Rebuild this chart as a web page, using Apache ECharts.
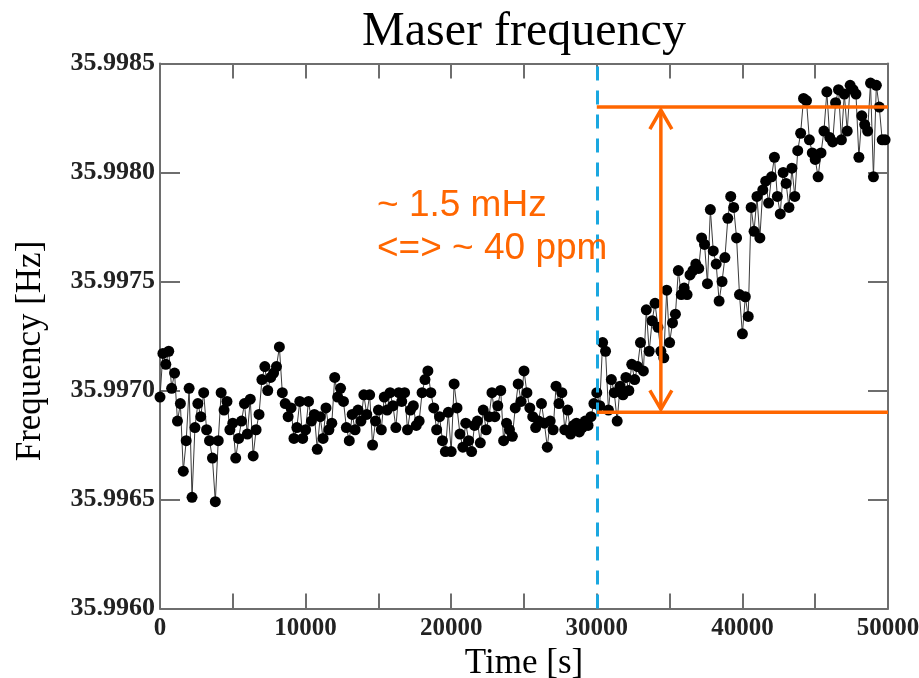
<!DOCTYPE html>
<html>
<head>
<meta charset="utf-8">
<title>Maser frequency</title>
<script src="https://cdn.jsdelivr.net/npm/echarts@6/dist/echarts.min.js"></script>
<style>
  html, body { margin: 0; padding: 0; background: #ffffff; overflow: hidden; }
  #chart { width: 919px; height: 678px; }
</style>
</head>
<body>
<div id="chart"></div>
<script>
// Sampling: one reading every 200 s, starting at t = 0
const sampleStep = 200;

// Measured maser frequency [Hz]
const frequency = [
  35.99697, 35.99717, 35.99712, 35.99718, 35.99701, 35.99708, 35.99686, 35.99694, 35.99663, 35.99677,
  35.99701, 35.99651, 35.99683, 35.99694, 35.99688, 35.99699, 35.99682, 35.99677, 35.99669, 35.99649,
  35.99677, 35.99699, 35.99691, 35.99695, 35.99682, 35.99685, 35.99669, 35.99678, 35.99686, 35.99694,
  35.99680, 35.99696, 35.99670, 35.99682, 35.99689, 35.99705, 35.99711, 35.99700, 35.99706, 35.99708,
  35.99711, 35.99720, 35.99699, 35.99694, 35.99688, 35.99692, 35.99678, 35.99683, 35.99695, 35.99678,

  35.99682, 35.99695, 35.99686, 35.99689, 35.99673, 35.99688, 35.99678, 35.99692, 35.99682, 35.99685,
  35.99706, 35.99697, 35.99701, 35.99695, 35.99683, 35.99677, 35.99689, 35.99682, 35.99691, 35.99686,
  35.99698, 35.99689, 35.99698, 35.99675, 35.99686, 35.99691, 35.99682, 35.99697, 35.99691, 35.99699,
  35.99693, 35.99683, 35.99699, 35.99695, 35.99699, 35.99682, 35.99691, 35.99693, 35.99684, 35.99686,
  35.99699, 35.99705, 35.99709, 35.99699, 35.99692, 35.99682, 35.99688, 35.99677, 35.99672, 35.99690,

  35.99672, 35.99703, 35.99692, 35.99680, 35.99674, 35.99685, 35.99677, 35.99672, 35.99684, 35.99686,
  35.99676, 35.99691, 35.99682, 35.99688, 35.99699, 35.99688, 35.99693, 35.99700, 35.99677, 35.99685,
  35.99682, 35.99679, 35.99692, 35.99703, 35.99695, 35.99709, 35.99699, 35.99692, 35.99688, 35.99683,
  35.99686, 35.99694, 35.99685, 35.99674, 35.99686, 35.99682, 35.99702, 35.99694, 35.99699, 35.99682,
  35.99691, 35.99680, 35.99684, 35.99685, 35.99681, 35.99683, 35.99686, 35.99684, 35.99688, 35.99694,

  35.99699, 35.99693, 35.99722, 35.99718, 35.99691, 35.99705, 35.99699, 35.99686, 35.99702, 35.99698,
  35.99706, 35.99700, 35.99712, 35.99705, 35.99711, 35.99722, 35.99709, 35.99737, 35.99718, 35.99732,
  35.99740, 35.99729, 35.99718, 35.99715, 35.99746, 35.99722, 35.99731, 35.99735, 35.99755, 35.99744,
  35.99747, 35.99744, 35.99753, 35.99755, 35.99758, 35.99756, 35.99770, 35.99767, 35.99749, 35.99783,
  35.99764, 35.99758, 35.99741, 35.99750, 35.99761, 35.99779, 35.99789, 35.99784, 35.99770, 35.99744,

  35.99726, 35.99743, 35.99734, 35.99784, 35.99773, 35.99789, 35.99770, 35.99792, 35.99796, 35.99786,
  35.99798, 35.99807, 35.99789, 35.99781, 35.99800, 35.99795, 35.99784, 35.99802, 35.99789, 35.99810,
  35.99818, 35.99834, 35.99833, 35.99815, 35.99809, 35.99806, 35.99798, 35.99809, 35.99819, 35.99837,
  35.99816, 35.99814, 35.99832, 35.99838, 35.99815, 35.99836, 35.99819, 35.99840, 35.99838, 35.99836,
  35.99807, 35.99826, 35.99822, 35.99819, 35.99841, 35.99798, 35.99840, 35.99830, 35.99815, 35.99815
];

// Axis ranges and ticks
const timeRange = [0, 50000];
const timeTickStep = 5000;
const timeLabelStep = 10000;
const freqRange = [35.996, 35.9985];
const freqTickStep = 0.0005;

// Annotation: heating starts at 30000 s, drift band between two levels
const switchTime = 30000;
const bracketTime = [30000, 50000];
const bracketLevels = [35.9969, 35.9983];
const arrowTime = 34400;
const noteLines = ['~ 1.5 mHz', '<=> ~ 40 ppm'];

const seriesData = frequency.map((v, i) => [i * sampleStep, v]);

const serif = '"Liberation Serif", "Times New Roman", serif';
const frameColor = '#6e6e6e';
const orange = '#ff6600';

const chart = echarts.init(document.getElementById('chart'), null, {
  renderer: 'canvas', width: 919, height: 678
});

const tickLabelStyle = { fontFamily: serif, fontWeight: 'bold', color: '#222' };

chart.setOption({
  animation: false,
  backgroundColor: '#ffffff',
  title: {
    text: 'Maser frequency',
    left: 519,
    top: 3,
    textAlign: 'center',
    textStyle: { fontFamily: serif, fontWeight: 'normal', fontSize: 48, color: '#000' }
  },
  grid: {
    left: 160, top: 63.5, width: 728, height: 545,
    containLabel: false, outerBoundsMode: 'none'
  },
  xAxis: [
    {
      type: 'value', min: timeRange[0], max: timeRange[1], interval: timeTickStep,
      position: 'bottom',
      name: 'Time [s]', nameLocation: 'middle', nameGap: 20,
      nameTextStyle: { fontFamily: serif, fontSize: 35, color: '#000' },
      axisLine: { show: true, onZero: false, lineStyle: { color: frameColor, width: 2 } },
      axisTick: { show: true, inside: true, length: 15, lineStyle: { color: frameColor, width: 2 } },
      axisLabel: {
        ...tickLabelStyle, fontSize: 25, margin: 8, hideOverlap: false,
        formatter: v => (v % timeLabelStep === 0 ? String(v) : '')
      },
      splitLine: { show: false }
    },
    {
      type: 'value', min: timeRange[0], max: timeRange[1], interval: timeTickStep,
      position: 'top',
      axisLine: { show: true, onZero: false, lineStyle: { color: frameColor, width: 2 } },
      axisTick: { show: true, inside: true, length: 15, lineStyle: { color: frameColor, width: 2 } },
      axisLabel: { show: false },
      splitLine: { show: false }
    }
  ],
  yAxis: [
    {
      type: 'value', min: freqRange[0], max: freqRange[1], interval: freqTickStep,
      position: 'left',
      axisLine: { show: true, onZero: false, lineStyle: { color: frameColor, width: 2 } },
      axisTick: { show: true, inside: true, length: 20, lineStyle: { color: frameColor, width: 2 } },
      axisLabel: { ...tickLabelStyle, fontSize: 26, margin: 5, formatter: v => v.toFixed(4) },
      splitLine: { show: false }
    },
    {
      type: 'value', min: freqRange[0], max: freqRange[1], interval: freqTickStep,
      position: 'right',
      axisLine: { show: true, onZero: false, lineStyle: { color: frameColor, width: 2 } },
      axisTick: { show: true, inside: true, length: 20, lineStyle: { color: frameColor, width: 2 } },
      axisLabel: { show: false },
      splitLine: { show: false }
    }
  ],
  graphic: [
    {
      type: 'text', x: 31, y: 351, rotation: Math.PI / 2,
      style: {
        text: 'Frequency [Hz]', font: '35px ' + serif, fill: '#000',
        align: 'center', verticalAlign: 'middle'
      }
    },
    {
      type: 'text', x: 377, y: 184, z: 10,
      style: {
        text: noteLines.join('\n'),
        font: '37px "Liberation Sans", Arial, sans-serif',
        lineHeight: 43, fill: orange, align: 'left', verticalAlign: 'top'
      }
    }
  ],
  series: [
    {
      name: 'Frequency',
      type: 'line',
      xAxisIndex: 0, yAxisIndex: 0,
      data: seriesData,
      symbol: 'circle',
      symbolSize: 11,
      showSymbol: true,
      itemStyle: { color: '#000' },
      lineStyle: { color: '#3a3a3a', width: 1 },
      z: 2,
      markLine: {
        silent: true,
        symbol: ['none', 'none'],
        label: { show: false },
        lineStyle: { color: '#1aa7e0', width: 3, type: [14, 10] },
        data: [{ xAxis: switchTime }],
        z: 4
      }
    },
    {
      name: 'Drift band',
      type: 'custom',
      xAxisIndex: 0, yAxisIndex: 0,
      silent: true,
      z: 6,
      data: [[arrowTime, bracketLevels[0]]],
      renderItem: (params, api) => {
        const lowA = api.coord([bracketTime[0], bracketLevels[0]]);
        const lowB = api.coord([bracketTime[1], bracketLevels[0]]);
        const highA = api.coord([bracketTime[0], bracketLevels[1]]);
        const highB = api.coord([bracketTime[1], bracketLevels[1]]);
        const arrLow = api.coord([arrowTime, bracketLevels[0]]);
        const arrHigh = api.coord([arrowTime, bracketLevels[1]]);
        const style = { stroke: orange, lineWidth: 3.5, fill: null };
        const hw = 11, hh = 19;
        return {
          type: 'group',
          children: [
            { type: 'line', shape: { x1: lowA[0], y1: lowA[1], x2: lowB[0], y2: lowB[1] }, style },
            { type: 'line', shape: { x1: highA[0], y1: highA[1], x2: highB[0], y2: highB[1] }, style },
            { type: 'line', shape: { x1: arrLow[0], y1: arrLow[1] - 3, x2: arrHigh[0], y2: arrHigh[1] + 3 }, style },
            { type: 'polyline', shape: { points: [[arrLow[0] - hw, arrLow[1] - 3 - hh], [arrLow[0], arrLow[1] - 3], [arrLow[0] + hw, arrLow[1] - 3 - hh]] }, style },
            { type: 'polyline', shape: { points: [[arrHigh[0] - hw, arrHigh[1] + 3 + hh], [arrHigh[0], arrHigh[1] + 3], [arrHigh[0] + hw, arrHigh[1] + 3 + hh]] }, style }
          ]
        };
      }
    }
  ]
});
</script>
</body>
</html>
